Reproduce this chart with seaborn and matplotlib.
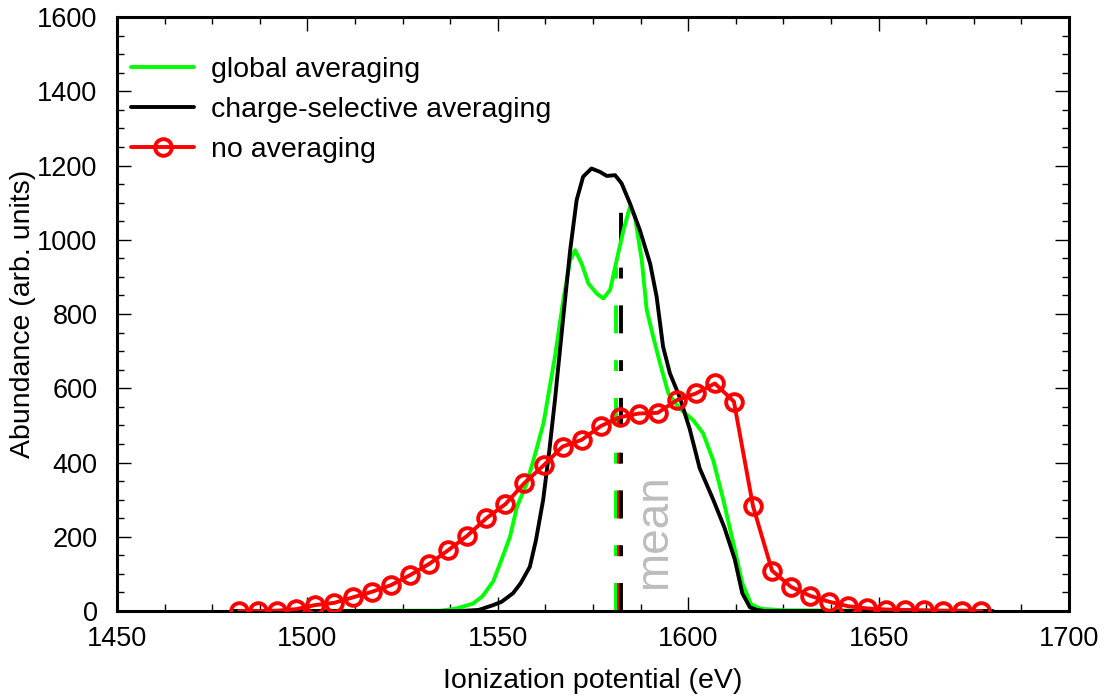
import numpy as np
import pandas as pd
import seaborn as sns
import matplotlib.pyplot as plt
from matplotlib.ticker import MultipleLocator

# global averaging (green)
glob_x = [1480, 1535, 1539.2, 1543.5, 1546, 1548.8, 1551.4, 1553.2, 1555, 1557.6,
          1560, 1562, 1565, 1567.2, 1569, 1570.3, 1572, 1573.8, 1576, 1577.7,
          1579.5, 1581.2, 1583, 1584.7, 1586, 1587.8, 1589.1, 1590.8, 1592.6, 1594.8,
          1597.8, 1601.3, 1603.9, 1606.6, 1609.2, 1611.8, 1614.2, 1616.5, 1619, 1625, 1680]
glob_y = [0, 1, 7, 20, 40, 80, 150, 200, 280, 344,
          430, 506, 685, 838, 945, 972, 936, 882, 855, 842,
          865, 945, 1026, 1089, 1062, 945, 811, 739, 667, 586,
          545, 514, 479, 405, 300, 185, 75, 18, 6, 2, 0]

# charge-selective averaging (black)
chsel_x = [1480, 1540, 1545, 1548.8, 1551, 1554, 1556, 1558.4, 1560, 1561.9,
           1563.5, 1565, 1567.2, 1569, 1570.7, 1572.4, 1574.6, 1576.8, 1578.6, 1580.8,
           1582.5, 1584.7, 1587.3, 1590, 1591.7, 1593.4, 1595.2, 1597.8, 1600.4, 1603,
           1606.6, 1609.5, 1612.2, 1614.2, 1616.2, 1618, 1620, 1680]
chsel_y = [0, 0, 3, 16, 25, 48, 75, 119, 190, 299,
           430, 568, 793, 972, 1107, 1170, 1192, 1183, 1172, 1174,
           1152, 1098, 1026, 936, 847, 712, 640, 575, 490, 385,
           299, 225, 140, 48, 10, 3, 0, 0]

# no averaging (red, circles)
noavg_x = [1482 + 5 * i for i in range(40)]
noavg_y = [0, 0, 1, 5, 16, 22, 37, 52, 70, 97,
           127, 164, 203, 250, 288, 345, 392, 443, 461, 498,
           522, 532, 534, 568, 586, 613, 564, 283, 109, 65,
           41, 25, 13, 7, 4, 3, 2, 1, 1, 0]

# mean markers
mean_x = [1581.0, 1581.7, 1582.4]
mean_top = [960, 525, 1102]
mean_colors = ['#00ff00', '#ff0000', '#000000']

sns.set_theme(style='ticks')
plt.rcParams['font.family'] = ['Liberation Sans', 'DejaVu Sans']
plt.rcParams['text.color'] = 'black'
plt.rcParams['axes.labelcolor'] = 'black'

fig = plt.figure(figsize=(11.07, 6.98), dpi=100)
ax = fig.add_axes([0.1057, 0.1246, 0.86, 0.851])

lw = 2.8
dash = (0, (7.2, 6.9, 2.8, 6.9))
for mx, mt, mc in zip(mean_x, mean_top, mean_colors):
    ax.plot([mx, mx], [0, mt], color=mc, linewidth=lw, linestyle=dash, zorder=1)

df_g = pd.DataFrame({'x': glob_x, 'y': glob_y})
df_c = pd.DataFrame({'x': chsel_x, 'y': chsel_y})
df_n = pd.DataFrame({'x': noavg_x, 'y': noavg_y})

sns.lineplot(data=df_g, x='x', y='y', ax=ax, color='#00ff00', linewidth=lw,
             label='global averaging', estimator=None, zorder=2)
sns.lineplot(data=df_c, x='x', y='y', ax=ax, color='#000000', linewidth=lw,
             label='charge-selective averaging', estimator=None, zorder=3)
sns.lineplot(data=df_n, x='x', y='y', ax=ax, color='#ff0000', linewidth=lw,
             marker='o', markersize=12, markerfacecolor='none',
             markeredgecolor='#ff0000', markeredgewidth=2.8,
             label='no averaging', estimator=None, zorder=4)

ax.text(1591.0, 213, 'mean', rotation=90, ha='center', va='center',
        fontsize=33, color='#bdbdbd')

ax.set_xlim(1450, 1700)
ax.set_ylim(0, 1600)
ax.xaxis.set_major_locator(MultipleLocator(50))
ax.xaxis.set_minor_locator(MultipleLocator(12.5))
ax.yaxis.set_major_locator(MultipleLocator(200))
ax.yaxis.set_minor_locator(MultipleLocator(50))
ax.tick_params(which='both', direction='in', top=True, right=True,
               labelsize=19.5, colors='black', width=1)
ax.tick_params(which='major', length=10, pad=11)
ax.tick_params(which='minor', length=5)
ax.tick_params(axis='y', which='major', pad=14)
for s in ax.spines.values():
    s.set_linewidth(2.2)
    s.set_color('black')

ax.set_xlabel('Ionization potential (eV)', fontsize=20.5, labelpad=11)
ax.set_ylabel('Abundance (arb. units)', fontsize=20.5, labelpad=1)

ax.legend(loc='upper left', bbox_to_anchor=(0.003, 0.952), borderaxespad=0,
          frameon=False, fontsize=20.5, handlelength=2.2, handletextpad=0.6,
          labelspacing=0.5)

fig.savefig('out.png', dpi=100)
